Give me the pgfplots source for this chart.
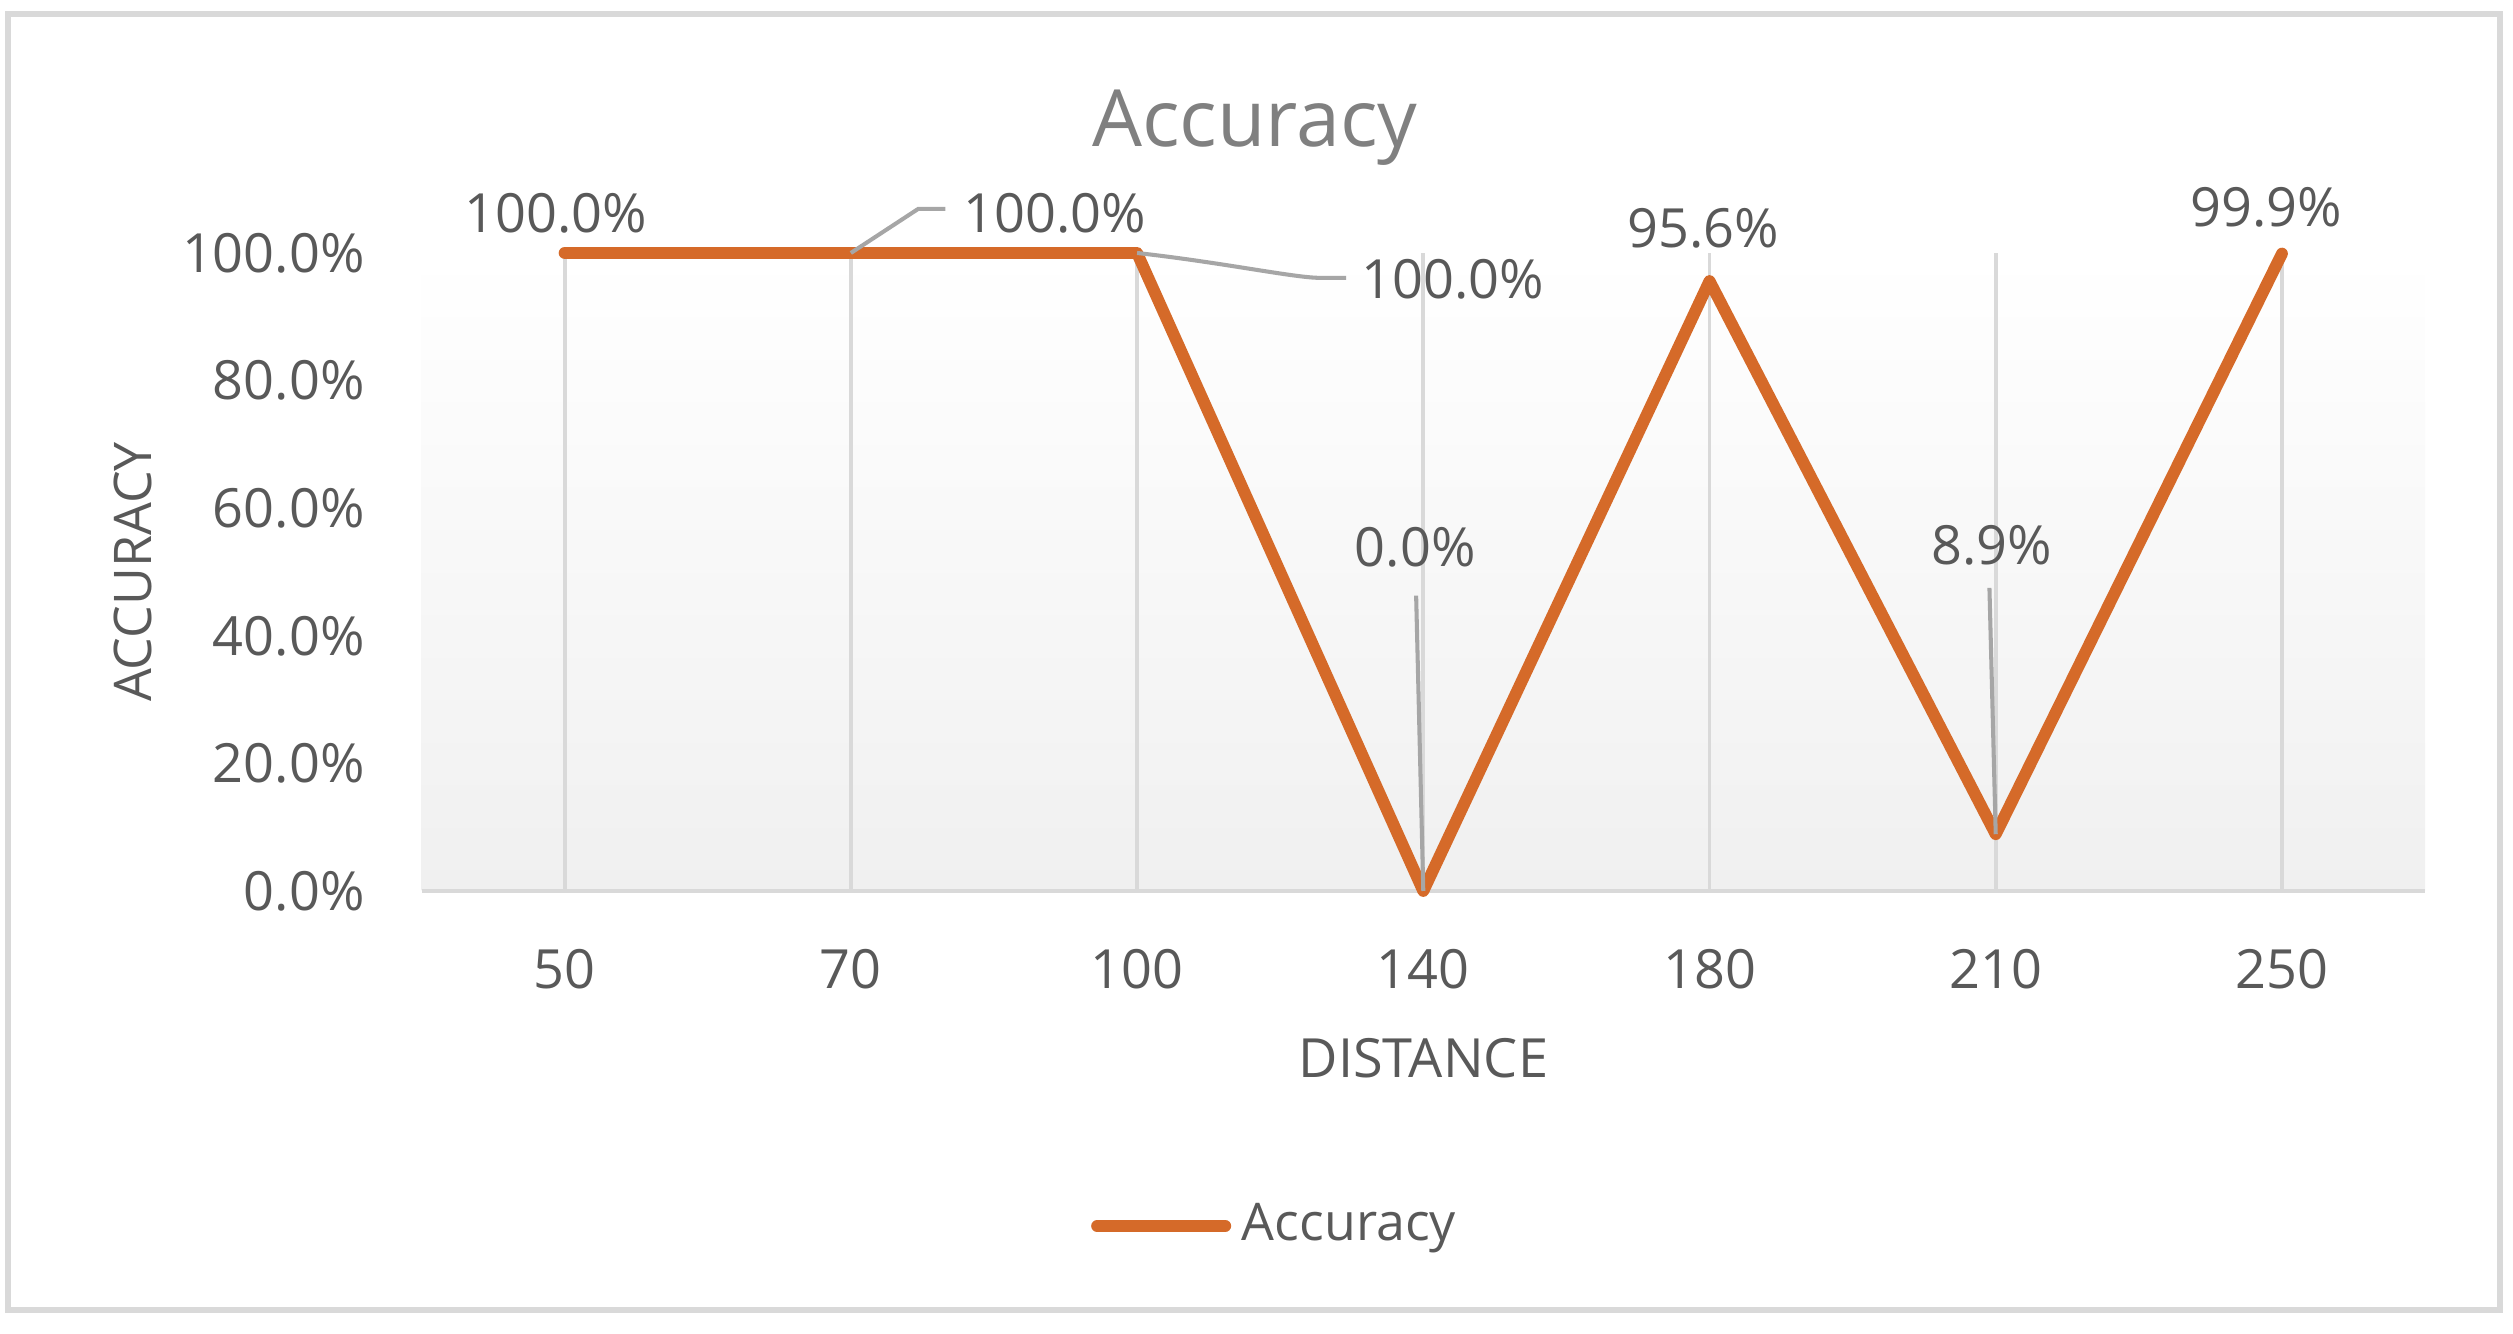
\documentclass[border=0pt]{standalone}
\usepackage{fontspec}
\setmainfont{Open Sans}
\usepackage{pgfplots}
\pgfplotsset{compat=1.18}
\definecolor{acc}{RGB}{213,106,41}
\definecolor{txt}{RGB}{89,89,89}
\definecolor{ttl}{RGB}{128,128,128}
\definecolor{grd}{RGB}{217,217,217}
\definecolor{ldr}{RGB}{166,166,166}
\definecolor{bgbot}{RGB}{240,240,240}

\begin{document}
\begin{tikzpicture}
% canvas and outer frame (1 unit = one pixel of the 2513x1333 image)
\begin{scope}[x=0.185pt,y=0.185pt]
  \path (0,0) rectangle (2513,1333);
  \draw[grd, line width=1.1pt] (8,23) rectangle (2500,1319);
\end{scope}
\begin{axis}[
  at={(77.98pt,81.77pt)}, anchor=south west,
  width=370.65pt, height=118.03pt, scale only axis,
  xmin=-0.5, xmax=6.5, ymin=0, ymax=100,
  xtick={0,...,6}, xticklabels={50,70,100,140,180,210,250},
  ytick={0,20,...,100},
  yticklabels={0.0\%,20.0\%,40.0\%,60.0\%,80.0\%,100.0\%},
  axis lines*=left,
  y axis line style={draw=none},
  x axis line style={grd, line width=0.9pt},
  xmajorgrids, major grid style={grd, line width=0.7pt},
  major tick length=0pt,
  tick label style={font=\fontsize{10}{12}\selectfont, text=txt},
  yticklabel style={xshift=-7pt},
  xticklabel style={yshift=-7.2pt},
  axis background/.style={top color=white, bottom color=bgbot},
  clip=false,
  title={Accuracy},
  title style={at={(axis description cs:0.416,1.197)}, anchor=center, yshift=-6pt,
    font=\fontsize{14.6}{17}\selectfont, text=ttl},
  xlabel={DISTANCE},
  xlabel style={at={(axis description cs:0.5,-0.2618)}, anchor=center,
    font=\fontsize{10}{12}\selectfont, text=txt},
  ylabel={ACCURACY},
  ylabel style={at={(axis description cs:-0.144,0.5)}, anchor=center,
    font=\fontsize{9.6}{12}\selectfont, text=txt},
  legend style={at={(0.3337,-0.525)}, anchor=west, draw=none, fill=none,
    font=\fontsize{9.6}{12}\selectfont, text=txt, inner sep=0pt},
  legend image code/.code={\draw[#1, line cap=round] (0pt,0pt) -- (23.7pt,0pt);},
]
\addplot[acc, line width=2.2pt, line join=round, line cap=round]
  coordinates {(0,100)(1,100)(2,100)(3,0)(4,95.6)(5,8.9)(6,99.9)};
\addlegendentry{Accuracy}

% leader lines
\draw[ldr, line width=0.75pt] (axis cs:1,100) -- (axis cs:1.235,106.9) -- (axis cs:1.33,106.9);
\draw[ldr, line width=0.75pt] (axis cs:2,100) .. controls (axis cs:2.3,98.5) and (axis cs:2.55,96.1) .. (axis cs:2.64,96.1) -- (axis cs:2.73,96.1);
\draw[ldr, line width=0.75pt] (axis cs:2.975,46.3) -- (axis cs:3,0);
\draw[ldr, line width=0.75pt] (axis cs:4.978,47.5) -- (axis cs:5,8.9);

% data labels
\begin{scope}[every node/.style={font=\fontsize{10}{12}\selectfont, text=txt, anchor=center, inner sep=0pt}]
\node at (axis cs:-0.03,106.2) {100.0\%};
\node at (axis cs:1.712,106.3) {100.0\%};
\node at (axis cs:3.104,95.8) {100.0\%};
\node at (axis cs:2.972,53.8) {0.0\%};
\node at (axis cs:3.978,103.8) {95.6\%};
\node at (axis cs:5.945,107.2) {99.9\%};
\node at (axis cs:4.985,54.2) {8.9\%};
\end{scope}
\end{axis}
\end{tikzpicture}
\end{document}
